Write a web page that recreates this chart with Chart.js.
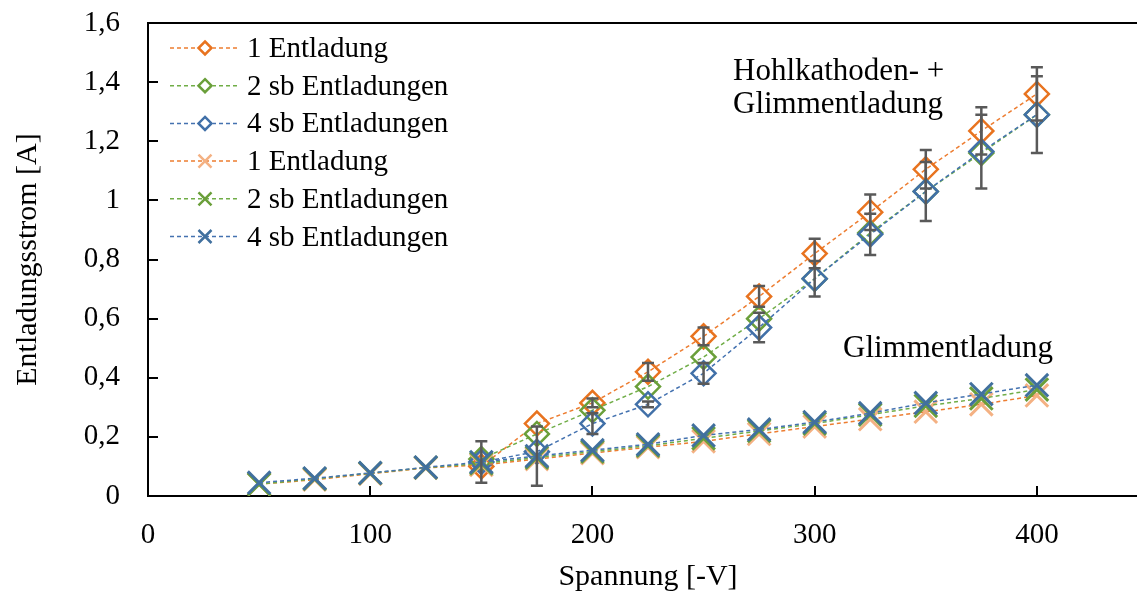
<!DOCTYPE html>
<html>
<head>
<meta charset="utf-8">
<script src="https://cdn.jsdelivr.net/npm/chart.js@4.4.1/dist/chart.umd.min.js"></script>
<style>
html, body { margin: 0; padding: 0; background: #fff; overflow: hidden; }
#wrap { width: 1137px; height: 593px; overflow: hidden; }
canvas { display: block; }
</style>
</head>
<body>
<div id="wrap"><canvas id="chart" width="1167" height="593"></canvas></div>
<script>
// Spannung [-V]
const voltages = [50, 75, 100, 125, 150, 175, 200, 225, 250, 275, 300, 325, 350, 375, 400];

// Hohlkathoden- + Glimmentladung (diamonds)
const hk1 = [null, null, null, null, 0.10, 0.245, 0.315, 0.42, 0.54, 0.675, 0.82, 0.96, 1.105, 1.235, 1.36];
const hk2 = [null, null, null, null, 0.125, 0.21, 0.29, 0.37, 0.47, 0.60, 0.735, 0.89, 1.03, 1.16, 1.29];
const hk4 = [null, null, null, null, 0.115, 0.15, 0.245, 0.31, 0.415, 0.57, 0.735, 0.885, 1.03, 1.165, 1.29];
const hk1Err = [null, null, null, null, null, null, 0.015, 0.03, 0.03, 0.035, 0.05, 0.06, 0.065, 0.08, 0.09];
const hk4Err = [null, null, null, null, null, null, 0.035, 0.01, 0.035, 0.05, 0.06, 0.07, 0.10, 0.125, 0.13];

// Glimmentladung (crosses)
const gl1 = [0.04, 0.055, 0.075, 0.095, 0.105, 0.125, 0.145, 0.165, 0.185, 0.21, 0.235, 0.26, 0.285, 0.31, 0.34];
const gl2 = [0.04, 0.058, 0.077, 0.096, 0.11, 0.13, 0.15, 0.17, 0.195, 0.22, 0.245, 0.275, 0.305, 0.33, 0.36];
const gl4 = [0.045, 0.06, 0.078, 0.097, 0.115, 0.135, 0.155, 0.175, 0.205, 0.225, 0.25, 0.28, 0.315, 0.345, 0.375];
const gl4Err = [null, null, null, null, 0.07, 0.10, null, null, null, null, null, null, null, null, null];

const yTicks = [0, 0.2, 0.4, 0.6, 0.8, 1, 1.2, 1.4, 1.6];
const xTicks = [0, 100, 200, 300, 400];

const FONT = '"Liberation Serif", "Times New Roman", serif';

function points(vals, errs) {
    const out = [];
    vals.forEach((v, i) => {
        if (v === null) return;
        out.push({ x: voltages[i], y: v, err: errs ? errs[i] : null });
    });
    return out;
}

function series(label, vals, errs, color, markerColor, style, order) {
    const diamond = style === 'rectRot';
    return {
        label: label,
        data: points(vals, errs),
        borderColor: color,
        borderWidth: 1.5,
        borderDash: [4, 3],
        backgroundColor: 'rgba(0,0,0,0)',
        pointStyle: style,
        pointRadius: diamond ? 12 : 16,
        pointBorderWidth: diamond ? 2.5 : 3,
        pointBorderColor: markerColor,
        pointBackgroundColor: 'rgba(0,0,0,0)',
        tension: 0,
        order: order
    };
}

const datasets = [
    series('1 Entladung', hk1, hk1Err, '#ED7D31', '#E8731F', 'rectRot', 6),
    series('2 sb Entladungen', hk2, null, '#70AD47', '#6A9F3A', 'rectRot', 5),
    series('4 sb Entladungen', hk4, hk4Err, '#4472B0', '#4170A8', 'rectRot', 4),
    series('1 Entladung', gl1, null, '#ED7D31', '#F4B183', 'crossRot', 3),
    series('2 sb Entladungen', gl2, null, '#70AD47', '#6A9F3A', 'crossRot', 2),
    series('4 sb Entladungen', gl4, gl4Err, '#4472B0', '#41709E', 'crossRot', 1)
];

// Error bars, drawn through the scales
const errorBars = {
    id: 'errorBars',
    afterDatasetsDraw(chart) {
        const ctx = chart.ctx;
        const xs = chart.scales.x, ys = chart.scales.y;
        ctx.save();
        ctx.strokeStyle = '#595959';
        ctx.lineWidth = 2.5;
        chart.data.datasets.forEach(ds => {
            ds.data.forEach(p => {
                if (!p.err) return;
                const px = xs.getPixelForValue(p.x);
                const top = ys.getPixelForValue(p.y + p.err);
                const bot = ys.getPixelForValue(p.y - p.err);
                ctx.beginPath();
                ctx.moveTo(px, top); ctx.lineTo(px, bot);
                ctx.moveTo(px - 6, top); ctx.lineTo(px + 6, top);
                ctx.moveTo(px - 6, bot); ctx.lineTo(px + 6, bot);
                ctx.stroke();
            });
        });
        ctx.restore();
    }
};

function drawMarker(ctx, style, x, y, r) {
    ctx.beginPath();
    if (style === 'rectRot') {
        ctx.moveTo(x, y - r); ctx.lineTo(x + r, y); ctx.lineTo(x, y + r); ctx.lineTo(x - r, y);
        ctx.closePath();
    } else {
        ctx.moveTo(x - r, y - r); ctx.lineTo(x + r, y + r);
        ctx.moveTo(x + r, y - r); ctx.lineTo(x - r, y + r);
    }
    ctx.stroke();
}

// Frame, inward ticks, legend and labels
const decorations = {
    id: 'decorations',
    afterDraw(chart) {
        const ctx = chart.ctx;
        const area = chart.chartArea;
        const xs = chart.scales.x, ys = chart.scales.y;
        ctx.save();
        ctx.strokeStyle = '#000';
        ctx.lineWidth = 2;
        ctx.beginPath();
        ctx.moveTo(area.left - 1, area.top);
        ctx.lineTo(area.right, area.top);
        yTicks.forEach(v => {
            if (v === 0) return;
            const py = Math.round(ys.getPixelForValue(v));
            ctx.moveTo(area.left, py); ctx.lineTo(area.left + 10, py);
        });
        xTicks.forEach(v => {
            if (v === 0) return;
            const px = Math.round(xs.getPixelForValue(v));
            ctx.moveTo(px, area.bottom); ctx.lineTo(px, area.bottom - 10);
        });
        ctx.stroke();

        // legend
        chart.data.datasets.forEach((ds, i) => {
            const y = 48 + i * 37.7;
            ctx.setLineDash([4, 3]);
            ctx.lineWidth = 1.5;
            ctx.strokeStyle = ds.borderColor;
            ctx.beginPath();
            ctx.moveTo(170, y); ctx.lineTo(238, y);
            ctx.stroke();
            ctx.setLineDash([]);
            ctx.strokeStyle = ds.pointBorderColor;
            if (ds.pointStyle === 'rectRot') {
                ctx.fillStyle = '#fff';
                ctx.fillRect(197, y - 7, 16, 14);
                ctx.lineWidth = 2.5;
                drawMarker(ctx, 'rectRot', 205, y, 6.5);
            } else {
                ctx.lineWidth = 2.5;
                drawMarker(ctx, 'crossRot', 205, y, 6.5);
            }
            ctx.fillStyle = '#000';
            ctx.font = '29px ' + FONT;
            ctx.textBaseline = 'alphabetic';
            ctx.textAlign = 'left';
            ctx.fillText(ds.label, 247, y + 9);
        });

        // annotations
        ctx.font = '31px ' + FONT;
        ctx.fillStyle = '#000';
        ctx.fillText('Hohlkathoden- +', 733, 80);
        ctx.fillText('Glimmentladung', 733, 113);
        ctx.fillText('Glimmentladung', 843, 357);
        ctx.restore();
    }
};

new Chart(document.getElementById('chart'), {
    type: 'line',
    data: { datasets: datasets },
    options: {
        responsive: false,
        animation: false,
        layout: { padding: { top: 23, right: 2, left: 0, bottom: 0 } },
        plugins: {
            legend: { display: false },
            tooltip: { enabled: false }
        },
        scales: {
            x: {
                type: 'linear',
                min: 0,
                max: 450,
                afterFit: (scale) => {
                    scale.height = 97;
                    scale.paddingLeft = 0;
                    scale.paddingRight = 0;
                },
                afterBuildTicks: (scale) => { scale.ticks = xTicks.map(v => ({ value: v })); },
                grid: { display: false, drawTicks: false },
                border: { display: true, color: '#000', width: 2 },
                ticks: {
                    color: '#000',
                    padding: 22,
                    font: { family: FONT, size: 29 }
                },
                title: {
                    display: true,
                    text: 'Spannung [-V]',
                    color: '#000',
                    padding: { bottom: 1, top: 0 },
                    font: { family: FONT, size: 30, lineHeight: 1 }
                }
            },
            y: {
                min: 0,
                max: 1.6,
                afterFit: (scale) => {
                    scale.width = 148;
                    scale.paddingTop = 0;
                    scale.paddingBottom = 0;
                },
                afterBuildTicks: (scale) => { scale.ticks = yTicks.map(v => ({ value: v })); },
                grid: { display: false, drawTicks: false },
                border: { display: true, color: '#000', width: 2 },
                ticks: {
                    color: '#000',
                    padding: 28,
                    font: { family: FONT, size: 29 },
                    callback: (v) => String(Math.round(v * 10) / 10).replace('.', ',')
                },
                title: {
                    display: true,
                    text: 'Entladungsstrom [A]',
                    color: '#000',
                    padding: { top: 13, bottom: 0 },
                    font: { family: FONT, size: 30, lineHeight: 1 }
                }
            }
        }
    },
    plugins: [errorBars, decorations]
});
</script>
</body>
</html>
